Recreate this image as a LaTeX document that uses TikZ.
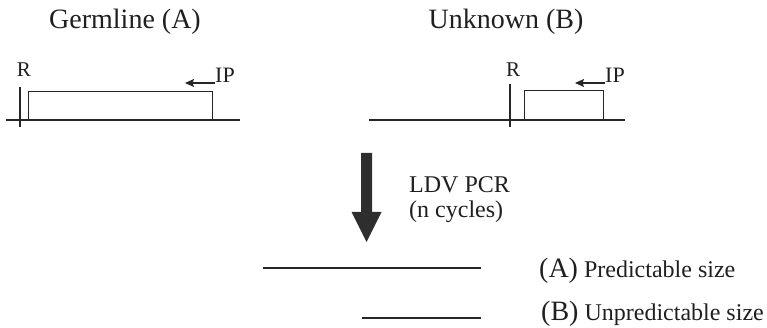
\documentclass[tikz,border=0pt]{standalone}
\usepackage{fontspec}
\setmainfont{Liberation Serif}
\usetikzlibrary{arrows.meta}
\begin{document}
\begin{tikzpicture}[x=1pt,y=-1pt,
  lbl/.style={inner sep=0pt, text=black!88},
  title/.style={lbl, anchor=base, font=\fontsize{28}{28}\selectfont},
  site/.style={lbl, anchor=base, font=\fontsize{21}{21}\selectfont},
  primer/.style={lbl, anchor=base west, font=\fontsize{22}{22}\selectfont},
  note/.style={lbl, anchor=base west, font=\fontsize{24}{24}\selectfont},
  dna/.style={draw=black!85, line width=1.2pt},
  iparrow/.style={dna, -{Stealth[length=9pt,width=8pt,inset=1.5pt]}},
  boxnode/.style={draw=black!85, line width=1.2pt, inner sep=0pt, anchor=south west},
  bigarrow/.style={fill=black!82}]
\useasboundingbox (0,0) rectangle (767,328);
% titles
\node[title] (tA) at (125,29) {Germline (A)};
\node[title] (tB) at (506,29) {Unknown (B)};
% left construct
\coordinate (lA1) at (6,120); \coordinate (lA2) at (240,120);
\draw[dna] (lA1) -- (lA2);
\coordinate (rA1) at (20,87); \coordinate (rA2) at (20,127);
\draw[dna] (rA1) -- (rA2);
\node[boxnode, minimum width=184pt, minimum height=28pt] (boxA) at (28,120) {};
\node[site] (RA) at (24,77) {R};
\node[primer] (ipA) at (215,83) {IP};
\coordinate (ipA2) at (185,83);
\draw[iparrow] (ipA.base west) -- (ipA2);
% right construct
\coordinate (lB1) at (369,120); \coordinate (lB2) at (625,120);
\draw[dna] (lB1) -- (lB2);
\coordinate (rB1) at (510,84); \coordinate (rB2) at (510,127);
\draw[dna] (rB1) -- (rB2);
\node[boxnode, minimum width=79pt, minimum height=29pt] (boxB) at (524,120) {};
\node[site] (RB) at (513,77) {R};
\node[primer] (ipB) at (605,83) {IP};
\coordinate (ipB2) at (575,83);
\draw[iparrow] (ipB.base west) -- (ipB2);
% big arrow
\fill[bigarrow] (361,153) -- (372,153) -- (372,212) -- (381.5,212) -- (366.5,242) -- (351.5,212) -- (361,212) -- cycle;
\node[note] (ldv) at (409,193) {LDV PCR};
\node[note] (cyc) at (409,218) {(n cycles)};
% products
\coordinate (pA1) at (263,268); \coordinate (pA2) at (481,268);
\draw[dna] (pA1) -- (pA2);
\coordinate (pB1) at (362,318); \coordinate (pB2) at (481,318);
\draw[dna] (pB1) -- (pB2);
\node[note] (labA) at (539,277) {{\fontsize{28}{28}\selectfont(A)} Predictable size};
\node[note] (labB) at (541,320) {{\fontsize{28}{28}\selectfont(B)} Unpredictable size};
\end{tikzpicture}
\end{document}
